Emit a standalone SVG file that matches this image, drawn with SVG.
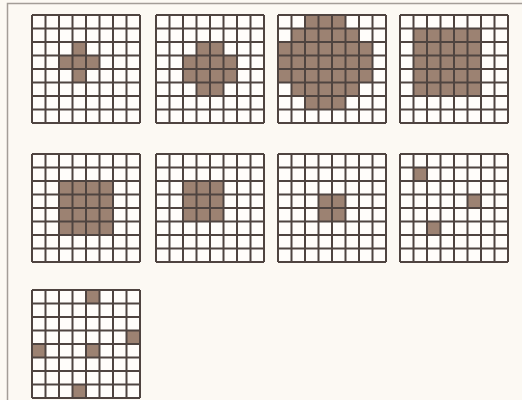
<svg xmlns="http://www.w3.org/2000/svg" xmlns:xlink="http://www.w3.org/1999/xlink" width="522" height="400" viewBox="0 0 522 400">
<style>
.bg{fill:#fcf9f3}
.cell{fill:#fffdfa}
.f{fill:#9c8272}
.ln{fill:none;stroke:#4f4440;stroke-width:2}
.frame{fill:none;stroke:#a39d97;stroke-width:1.5}
</style>
<defs>
<path id="lines" class="ln" d="M0 0V108M13.5 0V108M27 0V108M40.5 0V108M54 0V108M67.5 0V108M81 0V108M94.5 0V108M108 0V108M0 0H108M0 13.5H108M0 27H108M0 40.5H108M0 54H108M0 67.5H108M0 81H108M0 94.5H108M0 108H108"/>
<rect id="base" class="cell" x="0" y="0" width="108" height="108"/>
</defs>
<rect class="bg" x="0" y="0" width="522" height="400"/>
<path class="frame" d="M7.5 400V3.5H522"/>
<g id="grid1" transform="translate(32,15)">
<use xlink:href="#base"/>
<rect class="f" x="40.5" y="27" width="13.5" height="40.5"/>
<rect class="f" x="27" y="40.5" width="40.5" height="13.5"/>
<use xlink:href="#lines"/>
</g>
<g id="grid2" transform="translate(156,15)">
<use xlink:href="#base"/>
<rect class="f" x="40.5" y="27" width="27" height="54"/>
<rect class="f" x="27" y="40.5" width="54" height="27"/>
<use xlink:href="#lines"/>
</g>
<g id="grid3" transform="translate(278,15)">
<use xlink:href="#base"/>
<rect class="f" x="27" y="0" width="40.5" height="13.5"/>
<rect class="f" x="13.5" y="13.5" width="67.5" height="67.5"/>
<rect class="f" x="0" y="27" width="94.5" height="40.5"/>
<rect class="f" x="27" y="81" width="40.5" height="13.5"/>
<use xlink:href="#lines"/>
</g>
<g id="grid4" transform="translate(400,15)">
<use xlink:href="#base"/>
<rect class="f" x="13.5" y="13.5" width="67.5" height="67.5"/>
<use xlink:href="#lines"/>
</g>
<g id="grid5" transform="translate(32,154)">
<use xlink:href="#base"/>
<rect class="f" x="27" y="27" width="54" height="54"/>
<use xlink:href="#lines"/>
</g>
<g id="grid6" transform="translate(156,154)">
<use xlink:href="#base"/>
<rect class="f" x="27" y="27" width="40.5" height="40.5"/>
<use xlink:href="#lines"/>
</g>
<g id="grid7" transform="translate(278,154)">
<use xlink:href="#base"/>
<rect class="f" x="40.5" y="40.5" width="27" height="27"/>
<use xlink:href="#lines"/>
</g>
<g id="grid8" transform="translate(400,154)">
<use xlink:href="#base"/>
<rect class="f" x="13.5" y="13.5" width="13.5" height="13.5"/>
<rect class="f" x="67.5" y="40.5" width="13.5" height="13.5"/>
<rect class="f" x="27" y="67.5" width="13.5" height="13.5"/>
<use xlink:href="#lines"/>
</g>
<g id="grid9" transform="translate(32,290)">
<use xlink:href="#base"/>
<rect class="f" x="54" y="0" width="13.5" height="13.5"/>
<rect class="f" x="94.5" y="40.5" width="13.5" height="13.5"/>
<rect class="f" x="0" y="54" width="13.5" height="13.5"/>
<rect class="f" x="54" y="54" width="13.5" height="13.5"/>
<rect class="f" x="40.5" y="94.5" width="13.5" height="13.5"/>
<use xlink:href="#lines"/>
</g>
<g id="connectors"/>
</svg>
